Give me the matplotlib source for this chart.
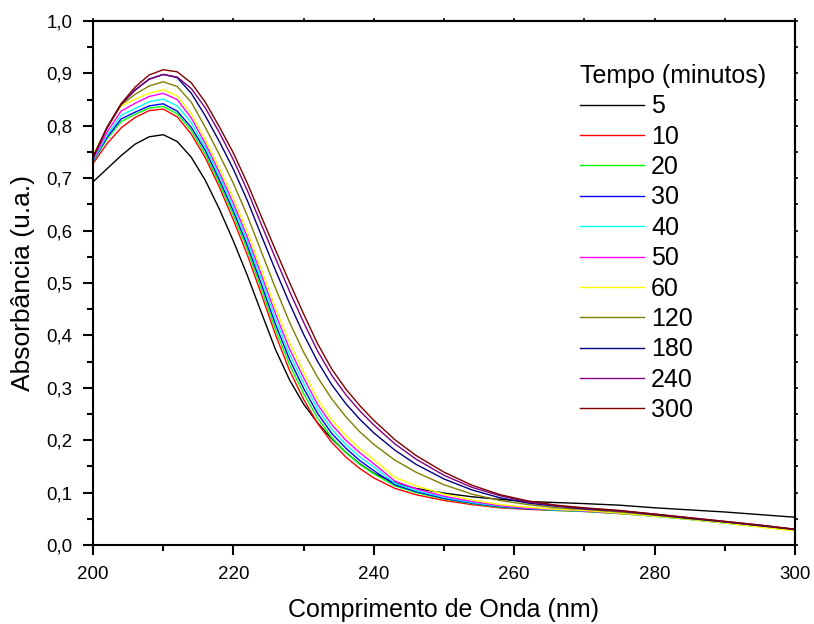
import numpy as np
import matplotlib.pyplot as plt
from matplotlib.ticker import MultipleLocator, FuncFormatter

plt.rcParams['font.family'] = ['Liberation Sans', 'DejaVu Sans']

# wavelength grid (nm)
wavelength = [200, 202, 204, 206, 208, 210, 212, 214, 216, 218, 220, 222, 224, 226,
              228, 230, 232, 234, 236, 238, 240, 243, 246, 250, 254, 258, 262, 266,
              270, 275, 280, 285, 290, 295, 300]

# absorbance, one list per time (minutes)
abs_5 = [0.693, 0.718, 0.743, 0.765, 0.779, 0.783, 0.770, 0.740, 0.696, 0.641, 0.580, 0.514,
         0.443, 0.373, 0.315, 0.269, 0.233, 0.203, 0.177, 0.155, 0.137, 0.119, 0.108, 0.099,
         0.092, 0.087, 0.083, 0.081, 0.079, 0.076, 0.071, 0.067, 0.063, 0.058, 0.053]
abs_10 = [0.728, 0.766, 0.796, 0.816, 0.829, 0.832, 0.817, 0.784, 0.739, 0.683, 0.620, 0.553,
          0.478, 0.401, 0.333, 0.278, 0.232, 0.196, 0.168, 0.146, 0.128, 0.108, 0.096, 0.085,
          0.077, 0.071, 0.068, 0.066, 0.064, 0.060, 0.055, 0.049, 0.042, 0.035, 0.028]
abs_20 = [0.732, 0.775, 0.808, 0.822, 0.834, 0.837, 0.823, 0.791, 0.746, 0.690, 0.629, 0.563,
          0.488, 0.411, 0.344, 0.289, 0.242, 0.205, 0.177, 0.154, 0.136, 0.113, 0.100, 0.088,
          0.079, 0.072, 0.069, 0.066, 0.064, 0.060, 0.055, 0.049, 0.042, 0.035, 0.028]
abs_30 = [0.733, 0.778, 0.813, 0.826, 0.838, 0.842, 0.828, 0.797, 0.753, 0.697, 0.637, 0.571,
          0.497, 0.421, 0.354, 0.299, 0.251, 0.213, 0.185, 0.161, 0.142, 0.115, 0.102, 0.089,
          0.080, 0.073, 0.069, 0.067, 0.065, 0.061, 0.056, 0.050, 0.043, 0.036, 0.029]
abs_40 = [0.734, 0.782, 0.820, 0.833, 0.846, 0.851, 0.838, 0.806, 0.759, 0.704, 0.644, 0.579,
          0.506, 0.431, 0.364, 0.309, 0.260, 0.221, 0.192, 0.168, 0.149, 0.118, 0.104, 0.091,
          0.081, 0.074, 0.070, 0.067, 0.065, 0.061, 0.055, 0.049, 0.042, 0.035, 0.028]
abs_50 = [0.736, 0.788, 0.828, 0.843, 0.856, 0.862, 0.850, 0.815, 0.766, 0.711, 0.652, 0.587,
          0.515, 0.441, 0.374, 0.319, 0.268, 0.230, 0.200, 0.176, 0.155, 0.122, 0.107, 0.093,
          0.083, 0.075, 0.070, 0.068, 0.065, 0.061, 0.056, 0.050, 0.043, 0.036, 0.029]
abs_60 = [0.745, 0.795, 0.838, 0.851, 0.862, 0.869, 0.857, 0.823, 0.773, 0.719, 0.661, 0.597,
          0.525, 0.452, 0.386, 0.330, 0.278, 0.239, 0.209, 0.184, 0.163, 0.129, 0.113, 0.097,
          0.086, 0.077, 0.072, 0.068, 0.066, 0.061, 0.055, 0.049, 0.042, 0.034, 0.027]
abs_120 = [0.740, 0.796, 0.840, 0.860, 0.876, 0.884, 0.875, 0.845, 0.797, 0.745, 0.690, 0.628,
           0.559, 0.490, 0.425, 0.368, 0.320, 0.279, 0.245, 0.216, 0.192, 0.162, 0.139, 0.115,
           0.097, 0.085, 0.077, 0.071, 0.068, 0.063, 0.057, 0.050, 0.044, 0.037, 0.029]
abs_180 = [0.740, 0.797, 0.841, 0.868, 0.889, 0.898, 0.892, 0.862, 0.819, 0.770, 0.717, 0.657,
           0.590, 0.524, 0.461, 0.402, 0.350, 0.306, 0.270, 0.240, 0.214, 0.181, 0.154, 0.126,
           0.105, 0.090, 0.080, 0.074, 0.069, 0.065, 0.058, 0.051, 0.044, 0.037, 0.030]
abs_240 = [0.739, 0.796, 0.841, 0.869, 0.889, 0.898, 0.893, 0.871, 0.834, 0.787, 0.735, 0.676,
           0.611, 0.547, 0.484, 0.425, 0.370, 0.324, 0.287, 0.256, 0.229, 0.193, 0.164, 0.133,
           0.110, 0.094, 0.082, 0.075, 0.070, 0.065, 0.059, 0.052, 0.045, 0.038, 0.030]
abs_300 = [0.740, 0.797, 0.842, 0.874, 0.897, 0.907, 0.903, 0.882, 0.845, 0.798, 0.748, 0.690,
           0.626, 0.563, 0.501, 0.441, 0.384, 0.336, 0.298, 0.266, 0.238, 0.201, 0.171, 0.139,
           0.114, 0.096, 0.084, 0.076, 0.071, 0.066, 0.059, 0.052, 0.045, 0.038, 0.030]

series = [abs_5, abs_10, abs_20, abs_30, abs_40, abs_50, abs_60, abs_120, abs_180, abs_240, abs_300]
times = ['5', '10', '20', '30', '40', '50', '60', '120', '180', '240', '300']
colors = ['#000000', '#FF0000', '#00FF00', '#0000FF', '#00FFFF', '#FF00FF',
          '#FFFF00', '#808000', '#000080', '#800080', '#800000']

W, H = 814, 624
fig = plt.figure(figsize=(W / 100, H / 100), dpi=100)
ax = fig.add_axes([93 / W, 1 - 545 / H, (795 - 93) / W, (545 - 21) / H])

for y, lab, c in zip(series, times, colors):
    ax.plot(wavelength, y, color=c, lw=1.0, label=lab)

ax.set_xlim(200, 300)
ax.set_ylim(0, 1.0)
ax.xaxis.set_major_locator(MultipleLocator(20))
ax.xaxis.set_minor_locator(MultipleLocator(10))
ax.yaxis.set_major_locator(MultipleLocator(0.1))
ax.yaxis.set_minor_locator(MultipleLocator(0.05))
ax.yaxis.set_major_formatter(FuncFormatter(lambda v, p: f'{v:.1f}'.replace('.', ',')))

for s in ax.spines.values():
    s.set_linewidth(1.5)
ax.tick_params(which='major', direction='out', length=7.5, width=1.5, labelsize=13.5, pad=7.5)
ax.tick_params(which='minor', direction='out', length=4.3, width=1.5)

# short ticks on the top and right axes
top = ax.secondary_xaxis('top')
top.xaxis.set_major_locator(MultipleLocator(20))
top.xaxis.set_minor_locator(MultipleLocator(10))
top.tick_params(which='both', direction='out', length=2, width=1.2, labeltop=False)
right = ax.secondary_yaxis('right')
right.yaxis.set_major_locator(MultipleLocator(0.1))
right.yaxis.set_minor_locator(MultipleLocator(0.05))
right.tick_params(which='both', direction='out', length=2, width=1.2, labelright=False)
for sec in (top, right):
    for s in sec.spines.values():
        s.set_linewidth(1.5)

ax.set_xlabel('Comprimento de Onda (nm)', fontsize=18, labelpad=11)
ax.set_ylabel('Absorbância (u.a.)', fontsize=19, labelpad=8)

leg = ax.legend(title='Tempo (minutos)', loc='upper left',
                bbox_to_anchor=(580 / W, 1 - 64 / H), bbox_transform=fig.transFigure,
                frameon=False, fontsize=18, title_fontsize=18,
                handlelength=2.55, handletextpad=0.3, labelspacing=0.255,
                borderpad=0, borderaxespad=0, alignment='left')

fig.savefig('out.png', dpi=100)
